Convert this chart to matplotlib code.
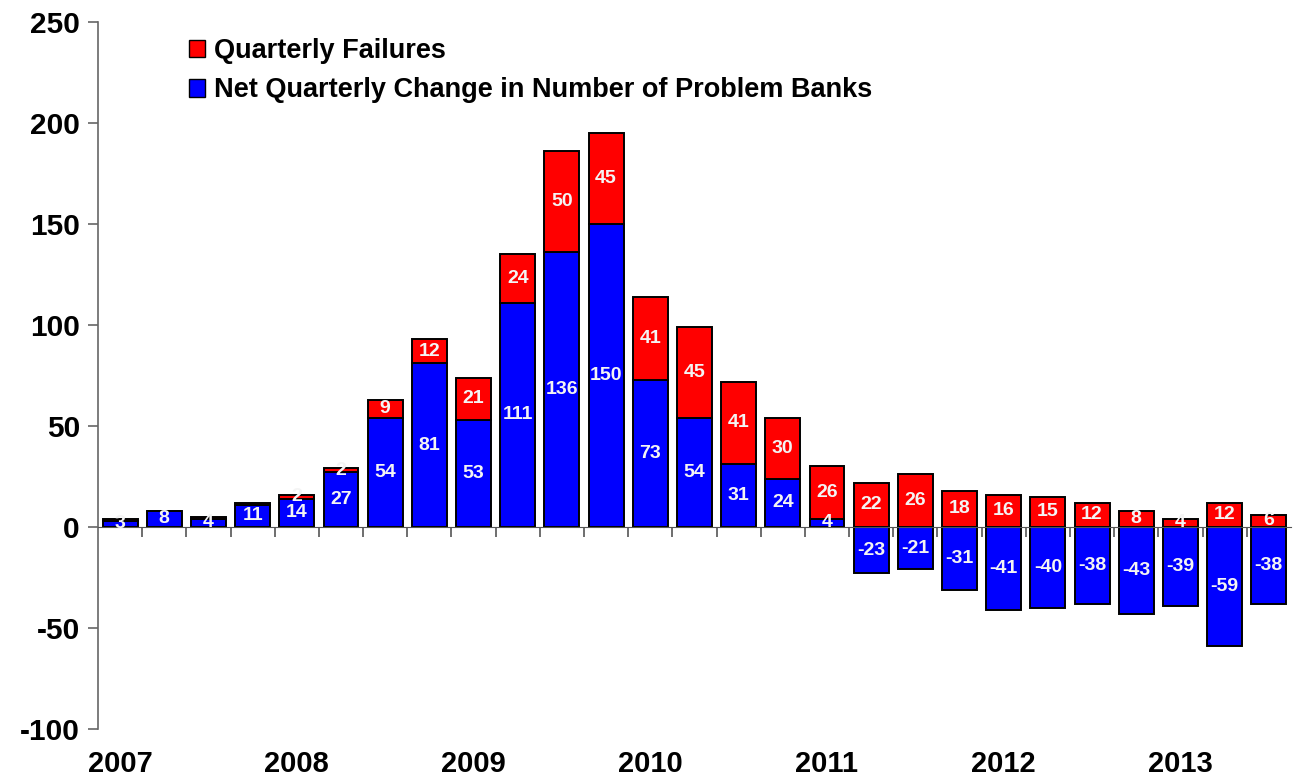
import numpy as np
import matplotlib.pyplot as plt
from matplotlib.patches import Patch

plt.rcParams['font.family'] = ['Liberation Sans', 'DejaVu Sans']
plt.rcParams['font.weight'] = 'bold'
plt.rcParams['axes.unicode_minus'] = False

# quarterly data 2007Q1 .. 2013Q3
quarters = ['2007Q1', '2007Q2', '2007Q3', '2007Q4',
            '2008Q1', '2008Q2', '2008Q3', '2008Q4',
            '2009Q1', '2009Q2', '2009Q3', '2009Q4',
            '2010Q1', '2010Q2', '2010Q3', '2010Q4',
            '2011Q1', '2011Q2', '2011Q3', '2011Q4',
            '2012Q1', '2012Q2', '2012Q3', '2012Q4',
            '2013Q1', '2013Q2', '2013Q3']
net_change = [3, 8, 4, 11, 14, 27, 54, 81, 53, 111, 136, 150, 73, 54, 31, 24,
              4, -23, -21, -31, -41, -40, -38, -43, -39, -59, -38]
failures = [1, 0, 1, 1, 2, 2, 9, 12, 21, 24, 50, 45, 41, 45, 41, 30,
            26, 22, 26, 18, 16, 15, 12, 8, 4, 12, 6]
years = ['2007', '2008', '2009', '2010', '2011', '2012', '2013']

# single failures in 2007 are too thin to label
min_fail_label = 2

x = np.arange(len(quarters))
net = np.array(net_change)
fail = np.array(failures)
fail_base = np.where(net > 0, net, 0)

fig = plt.figure(figsize=(12.98, 7.82), dpi=100)
ax = fig.add_axes([0.0755, 0.0678, 0.919, 0.904])

w = 0.79
ax.bar(x, net, width=w, color='#0000FF', edgecolor='black', linewidth=1.4, zorder=2)
ax.bar(x, fail, width=w, bottom=fail_base, color='#FF0000', edgecolor='black',
       linewidth=1.4, zorder=2)

lab = dict(ha='center', va='center', color='#F4F4F4', fontsize=14,
           fontweight='bold', zorder=4)
for i in range(len(x)):
    ax.text(x[i], net[i] / 2, str(net[i]), **lab)
    if fail[i] >= min_fail_label:
        ax.text(x[i], fail_base[i] + fail[i] / 2, str(fail[i]), **lab)

ax.set_xlim(-0.5, len(x) - 0.5)
ax.set_ylim(-100, 250)
ax.set_yticks(np.arange(-100, 251, 50))
ax.tick_params(axis='y', labelsize=21.5, length=7, width=1.2, color='#666666', pad=6)
for t in ax.get_yticklabels():
    t.set_fontweight('bold')

# category axis sits on zero with ticks between quarters
ax.spines['bottom'].set_position(('data', 0))
ax.spines['bottom'].set_color('#555555')
ax.spines['left'].set_color('#666666')
ax.spines['left'].set_linewidth(1.2)
ax.spines['top'].set_visible(False)
ax.spines['right'].set_visible(False)
ax.set_xticks([])
ax.set_xticks(x[:-1] + 0.5, minor=True)
ax.tick_params(axis='x', which='minor', length=7, width=1.2, color='#555555',
               direction='out')

for k, yr in enumerate(years):
    ax.annotate(yr, (x[4 * k], -100), xytext=(0, -15), textcoords='offset points',
                ha='center', va='top', fontsize=21, fontweight='bold',
                annotation_clip=False)

handles = [Patch(facecolor='#FF0000', edgecolor='black', label='Quarterly Failures'),
           Patch(facecolor='#0000FF', edgecolor='black',
                 label='Net Quarterly Change in Number of Problem Banks')]
ax.legend(handles=handles, loc='upper left', bbox_to_anchor=(0.056, 1.012),
          frameon=False, prop={'size': 19.5, 'weight': 'bold'},
          handlelength=0.6, handleheight=0.6, handletextpad=0.3, labelspacing=0.5)

fig.savefig('out.png', dpi=100)
